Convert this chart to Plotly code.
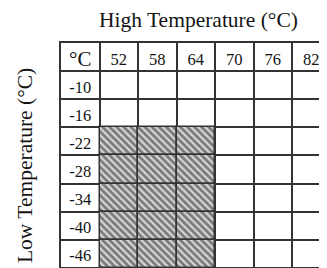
import plotly.graph_objects as go

# ---- data ----
high_temps = [52, 58, 64, 70, 76, 82]
low_temps = [-10, -16, -22, -28, -34, -40, -46]
hatched_high = [52, 58, 64]
hatched_low = [-22, -28, -34, -40, -46]
corner_label = "°C"
x_title = "High Temperature (°C)"
y_title = "Low Temperature (°C)"

FONT = "Liberation Serif"
INK = "#141414"
GRID = "#333333"

# column index: 0 = label column, 1.. = high temps ; row index: 0 = header, 1.. = low temps
col_of = {h: i + 1 for i, h in enumerate(high_temps)}
row_of = {l: i + 1 for i, l in enumerate(low_temps)}

fig = go.Figure()

# hatched cells
bx, bbase = [], []
for h in hatched_high:
    for l in hatched_low:
        bx.append(col_of[h])
        bbase.append(row_of[l] - 0.5)
fig.add_trace(go.Bar(
    x=bx, y=[1] * len(bx), base=bbase, width=1,
    marker=dict(color="white",
                line=dict(color=GRID, width=1.5),
                pattern=dict(shape="\\", size=5, solidity=0.55,
                             fgcolor="#1e1e1e", bgcolor="#d6d6d6")),
    hoverinfo="skip", showlegend=False))

# cell texts
tx, ty, tt, ts = [], [], [], []
tx.append(0); ty.append(0); tt.append(corner_label); ts.append(21)
for h in high_temps:
    tx.append(col_of[h]); ty.append(0); tt.append(str(h)); ts.append(16.5)
for l in low_temps:
    tx.append(0); ty.append(row_of[l]); tt.append(str(l)); ts.append(16.5)
fig.add_trace(go.Scatter(
    x=tx, y=[v + 0.12 for v in ty], text=tt, mode="text",
    textposition="middle center",
    textfont=dict(family=FONT, size=ts, color=INK),
    hoverinfo="skip", showlegend=False))

ncols = len(high_temps) + 1
nrows = len(low_temps) + 1
W, H = 327, 268
ML, MT = 53, 35          # page body adds 8px offset
COLW, ROWH = 38.5, 28.1
fig.update_layout(
    width=W, height=H,
    margin=dict(l=ML, r=0, t=MT, b=0, autoexpand=False),
    paper_bgcolor="white", plot_bgcolor="white",
    bargap=0,
    xaxis=dict(range=[-0.5, -0.5 + (W - ML) / COLW], side="top",
               tickvals=[i + 0.5 for i in range(ncols)],
               showticklabels=False, ticks="",
               showgrid=True, gridcolor=GRID, gridwidth=1.5,
               showline=True, linecolor=GRID, linewidth=1.5,
               zeroline=False, fixedrange=True),
    yaxis=dict(range=[-0.5 + (H - MT) / ROWH, -0.5],
               tickvals=[i + 0.5 for i in range(nrows)],
               showticklabels=False, ticks="",
               showgrid=True, gridcolor=GRID, gridwidth=1.5,
               showline=True, linecolor=GRID, linewidth=1.5,
               zeroline=False, fixedrange=True),
    annotations=[
        dict(text=x_title, xref="paper", yref="paper", x=0.5, y=1.0987,
             showarrow=False, font=dict(family=FONT, size=21.5, color=INK),
             xanchor="center", yanchor="middle"),
        dict(text=y_title, xref="paper", yref="paper", x=-0.1314, y=0.476,
             showarrow=False, textangle=-90,
             font=dict(family=FONT, size=21.5, color=INK),
             xanchor="center", yanchor="middle"),
    ],
)

fig.write_html("out.html")
